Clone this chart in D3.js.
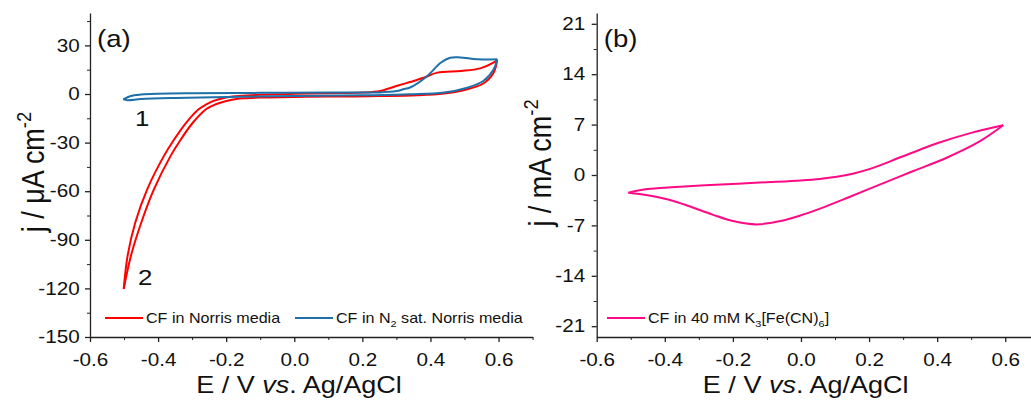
<!DOCTYPE html>
<html>
<head>
<meta charset="utf-8">
<script src="https://cdn.jsdelivr.net/npm/d3@7"></script>
<style>
    body { margin: 0; background: #fff; }
    svg text { font-family: Arial, "Liberation Sans", Helvetica, sans-serif; fill: #111; }
</style>
</head>
<body>
<svg id="chart" width="1031" height="403"></svg>
<script>
// Panel (a): CF in Norris media (air) - one loop, starts and ends at the cathodic limit
const airE = [-0.501, -0.4895, -0.467, -0.4317, -0.3828, -0.3524, -0.3172, -0.281, -0.258, -0.235, -0.21, -0.18, -0.14, -0.1, 0.0, 0.1, 0.2, 0.253, 0.30, 0.34, 0.38, 0.42, 0.49, 0.546, 0.585, 0.596,
              0.585, 0.555, 0.5, 0.44, 0.36, 0.25, 0.1, 0.0, -0.1, -0.14, -0.17, -0.19, -0.2173, -0.238, -0.2594, -0.2975, -0.3328, -0.3632, -0.412, -0.4493, -0.4797, -0.501];
const airJ = [-120.3, -99.8, -79.3, -58.7, -38.2, -27.9, -17.6, -9.4, -6.4, -4.1, -2.6, -1.6, -0.9, -0.5, 0.1, 0.5, 0.9, 1.9, 4.9, 7.4, 10, 13.2, 14.2, 15.8, 19.3, 21,
              13, 6.5, 2.5, 0.3, -0.8, -1.3, -1.6, -1.8, -2.2, -2.6, -3.1, -3.9, -5.4, -7.0, -9.4, -17.6, -27.9, -38.2, -58.7, -79.3, -99.8, -120.3];

// Panel (a): CF in N2 sat. Norris media
const n2E = [-0.502, -0.48, -0.45, -0.4, -0.3, -0.1, 0.1, 0.25, 0.30, 0.32, 0.34, 0.39, 0.43, 0.458, 0.487, 0.537, 0.596,
             0.585, 0.555, 0.508, 0.44, 0.34, 0.2, 0.0, -0.2, -0.35, -0.45, -0.49, -0.502];
const n2J = [-3.3, -1.2, -0.3, 0.2, 0.5, 0.7, 0.9, 1.0, 1.8, 2.9, 4.0, 11, 19.3, 22.4, 22.6, 21.4, 21.5,
             15, 8, 3.9, 0.9, -0.2, -0.8, -1.3, -1.8, -2.4, -3.1, -3.8, -3.3];

// Panel (b): CF in 40 mM K3[Fe(CN)6]
const fcnE = [-0.507, -0.45, -0.38, -0.25, -0.1, 0.0, 0.055, 0.105, 0.155, 0.203, 0.30, 0.40, 0.50, 0.594,
              0.526, 0.428, 0.33, 0.233, 0.135, 0.06, 0.0, -0.06, -0.13, -0.2, -0.26, -0.33, -0.39, -0.45, -0.507];
const fcnJ = [-2.45, -1.95, -1.7, -1.35, -1.0, -0.75, -0.55, -0.25, 0.22, 0.85, 2.6, 4.4, 5.85, 6.9,
              4.7, 2.4, 0.56, -1.3, -3.2, -4.6, -5.6, -6.4, -6.86, -6.4, -5.5, -4.3, -3.4, -2.8, -2.45];

// Tick labels
const xTicks = [-0.6, -0.4, -0.2, 0.0, 0.2, 0.4, 0.6];
const xMinor = [-0.5, -0.3, -0.1, 0.1, 0.3, 0.5, 0.7];
const aYTicks = [-150, -120, -90, -60, -30, 0, 30];
const aYMinor = [-135, -105, -75, -45, -15, 15, 45];
const bYTicks = [-21, -14, -7, 0, 7, 14, 21];
const bYMinor = [-17.5, -10.5, -3.5, 3.5, 10.5, 17.5];

const STRETCH = 1.15; // text in the reference is a bit wide
const svg = d3.select("#chart");

// text with optional sub/superscript pieces: parts = [[str, "sub"|"sup"|"ital"|""], ...]
function richText(g, x, y, size, parts, anchor, rotate) {
    let tf = `translate(${x},${y}) scale(${STRETCH},1)`;
    if (rotate) tf += ` rotate(${rotate})`;
    const t = g.append("text")
        .attr("transform", tf)
        .attr("font-size", size)
        .attr("text-anchor", anchor || "start");
    let shift = 0;
    parts.forEach(([s, kind]) => {
        let target = 0;
        let fs = size;
        if (kind === "sub") { target = size * 0.28; fs = size * 0.68; }
        if (kind === "sup") { target = -size * 0.42; fs = size * 0.68; }
        const ts = t.append("tspan")
            .attr("dy", target - shift)
            .attr("font-size", fs)
            .text(s);
        if (kind === "ital") ts.attr("font-style", "italic");
        shift = target;
    });
    return t;
}

function drawPanel(cfg) {
    const g = svg.append("g");
    const x = d3.scaleLinear().domain([-0.6, 0.7]).range([cfg.left, cfg.left + 442.6]);
    const y = d3.scaleLinear().domain(cfg.yDomain).range([337, 13]);

    // minor ticks first
    g.append("g").attr("transform", "translate(0,337)")
        .call(d3.axisBottom(x).tickValues(xMinor).tickSize(3).tickFormat(""))
        .call(a => a.select(".domain").remove());
    g.append("g").attr("transform", `translate(${cfg.left},0)`)
        .call(d3.axisLeft(y).tickValues(cfg.yMinor).tickSize(3).tickFormat(""))
        .call(a => a.select(".domain").remove());

    const xAxis = g.append("g").attr("transform", "translate(0,337)")
        .call(d3.axisBottom(x).tickValues(xTicks).tickSize(5).tickSizeOuter(0)
            .tickPadding(11).tickFormat(d => d.toFixed(1)));
    const yAxis = g.append("g").attr("transform", `translate(${cfg.left},0)`)
        .call(d3.axisLeft(y).tickValues(cfg.yTicks).tickSize(5).tickSizeOuter(0)
            .tickPadding(cfg.yPad).tickFormat(d => String(d)));

    [xAxis, yAxis].forEach(a => {
        a.attr("font-family", null).attr("font-size", 18).attr("color", "#222");
        a.selectAll("path, line").attr("stroke-width", 1.3);
        a.selectAll("text").attr("transform", `scale(${STRETCH},1)`);
    });
    svg.selectAll(".tick line").attr("color", "#222");

    // curves: split every loop at its anodic turning point so both tips stay sharp
    const line = d3.line()
        .x(d => x(d[0]))
        .y(d => y(d[1]))
        .curve(d3.curveCatmullRom.alpha(0.5));

    cfg.series.forEach(s => {
        const pts = d3.zip(s.e, s.j);
        const turn = d3.maxIndex(s.e);
        [pts.slice(0, turn + 1), pts.slice(turn)].forEach(part => {
            g.append("path")
                .attr("d", line(part))
                .attr("fill", "none")
                .attr("stroke", s.color)
                .attr("stroke-width", 2)
                .attr("stroke-linejoin", "round");
        });
    });

    // legend
    cfg.series.forEach(s => {
        g.append("line")
            .attr("x1", s.legendX).attr("x2", s.legendX + 38)
            .attr("y1", 318).attr("y2", 318)
            .attr("stroke", s.color).attr("stroke-width", 2);
        richText(g, s.legendX + 41, 323, 14, s.label);
    });

    // axis titles
    richText(g, cfg.left + 209, 393, 23.5, [["E / V ", ""], ["vs", "ital"], [". Ag/AgCl", ""]], "middle");
    richText(g, cfg.titleX, cfg.titleY, 27, cfg.yTitle, "middle", -90);

    // panel letter
    richText(g, cfg.left + 7, 47, 24, [[cfg.letter, ""]]);
    return { g, x, y };
}

const pa = drawPanel({
    left: 90,
    yDomain: [-150, 50],
    yTicks: aYTicks,
    yMinor: aYMinor,
    yPad: 4,
    letter: "(a)",
    titleX: 44, titleY: 172,
    yTitle: [["j / \u03bcA cm", ""], ["-2", "sup"]],
    series: [
        { e: airE, j: airJ, color: "#ff0000", legendX: 105,
          label: [["CF in Norris media", ""]] },
        { e: n2E, j: n2J, color: "#1f6fa9", legendX: 295,
          label: [["CF in N", ""], ["2", "sub"], [" sat. Norris media", ""]] }
    ]
});

// cycle numbers on panel (a)
richText(pa.g, 135, 126, 22.5, [["1", ""]]);
richText(pa.g, 138, 285, 22.5, [["2", ""]]);

drawPanel({
    left: 596.7,
    yDomain: [-22.5, 22.5],
    yTicks: bYTicks,
    yMinor: bYMinor,
    yPad: 5,
    letter: "(b)",
    titleX: 551, titleY: 163,
    yTitle: [["j / mA cm", ""], ["-2", "sup"]],
    series: [
        { e: fcnE, j: fcnJ, color: "#ff0a84", legendX: 607,
          label: [["CF in 40 mM K", ""], ["3", "sub"], ["[Fe(CN)", ""], ["6", "sub"], ["]", ""]] }
    ]
});
</script>
</body>
</html>
